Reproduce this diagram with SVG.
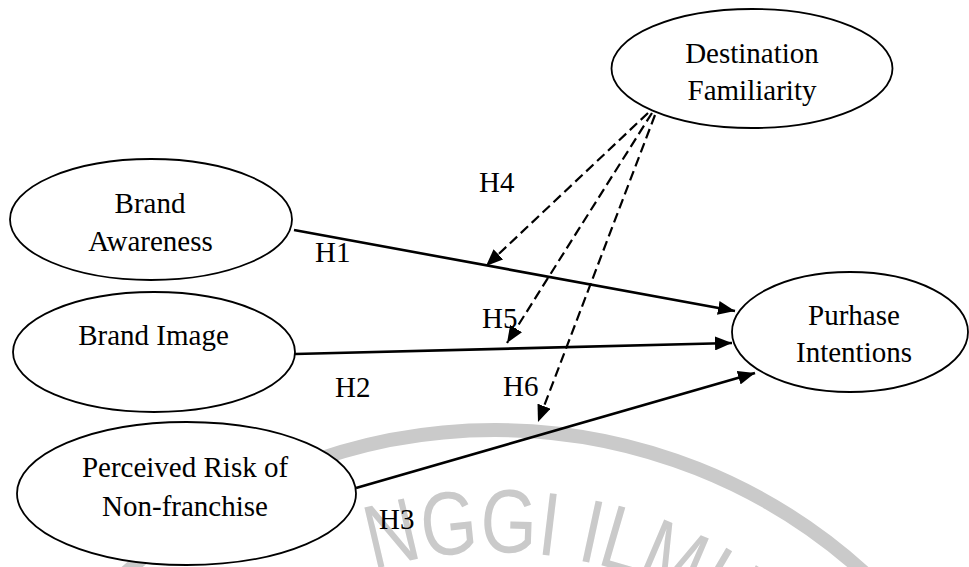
<svg xmlns="http://www.w3.org/2000/svg" width="969" height="567" viewBox="0 0 969 567">
<style>
.node ellipse{fill:#fff;stroke:#000;stroke-width:1.8}
.lbl{font-family:"Liberation Serif","Times New Roman",serif;font-size:29px;fill:#000}
.c{text-anchor:middle}
.solid{stroke:#000;stroke-width:2.6;fill:none}
.dash{stroke:#000;stroke-width:2.2;fill:none;stroke-dasharray:10 5}
.wm{fill:none;stroke:#cacaca;stroke-width:14}
.wmt{font-family:"Liberation Sans",Arial,sans-serif;font-size:90px;fill:#cacaca}
</style>
<defs>
<marker id="ah" markerUnits="userSpaceOnUse" markerWidth="18" markerHeight="14" refX="17" refY="7" orient="auto"><path d="M0,0 L17,7 L0,14 z" fill="#000"/></marker>
<path id="wmpath" d="M 373 570 A 427 427 0 0 1 797 677"/>
</defs>
<rect width="969" height="567" fill="#fff"/>
<g id="watermark">
<circle class="wm" cx="495" cy="979" r="549"/>
<text class="wmt"><textPath href="#wmpath" textLength="378" lengthAdjust="spacingAndGlyphs">NGGI ILMU</textPath></text>
</g>
<g id="n_destination" class="node">
<ellipse cx="752" cy="68.5" rx="140.5" ry="59.5"/>
<text class="lbl c" x="752" y="63">Destination</text>
<text class="lbl c" x="752" y="100">Familiarity</text>
</g>
<g id="n_awareness" class="node">
<ellipse cx="151" cy="219.5" rx="141" ry="60.5"/>
<text class="lbl c" x="150" y="213">Brand</text>
<text class="lbl c" x="150.5" y="251">Awareness</text>
</g>
<g id="n_image" class="node">
<ellipse cx="154" cy="352" rx="141" ry="60"/>
<text class="lbl c" x="153.5" y="345">Brand Image</text>
</g>
<g id="n_risk" class="node">
<ellipse cx="186.5" cy="493.5" rx="169.5" ry="71.5"/>
<text class="lbl c" x="185" y="477">Perceived Risk of</text>
<text class="lbl c" x="185" y="516">Non-franchise</text>
</g>
<g id="n_purchase" class="node">
<ellipse cx="850" cy="332" rx="118" ry="60"/>
<text class="lbl c" x="854" y="325">Purhase</text>
<text class="lbl c" x="854" y="362">Intentions</text>
</g>
<g id="connectors">
<line class="solid" x1="294" y1="230" x2="735" y2="311" marker-end="url(#ah)"/>
<line class="solid" x1="295" y1="354" x2="732" y2="343" marker-end="url(#ah)"/>
<line class="solid" x1="356" y1="488" x2="755" y2="373" marker-end="url(#ah)"/>
<line class="dash" x1="648" y1="113" x2="486" y2="266" marker-end="url(#ah)"/>
<line class="dash" x1="652" y1="113" x2="507" y2="343" marker-end="url(#ah)"/>
<line class="dash" x1="655" y1="115" x2="538" y2="422" marker-end="url(#ah)"/>
</g>
<g id="labels">
<text class="lbl" x="315" y="262">H1</text>
<text class="lbl" x="479" y="192">H4</text>
<text class="lbl" x="482" y="328">H5</text>
<text class="lbl" x="335" y="397">H2</text>
<text class="lbl" x="503" y="396">H6</text>
<text class="lbl" x="379" y="529">H3</text>
</g>
</svg>
